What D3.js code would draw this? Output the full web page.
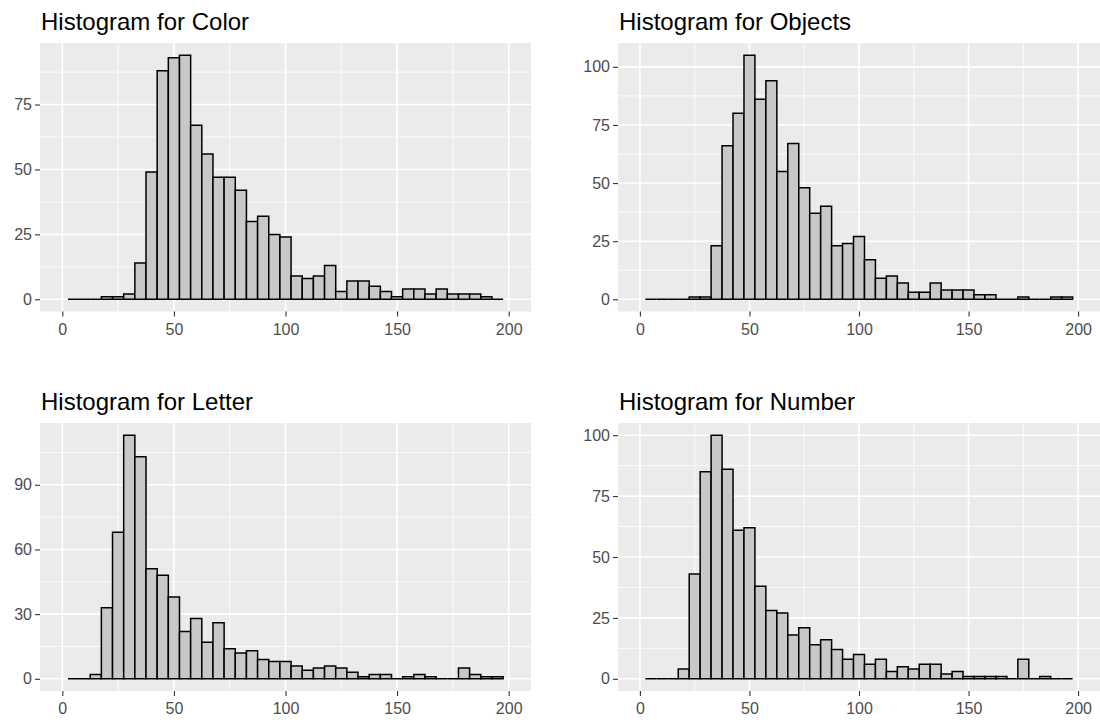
<!DOCTYPE html>
<html>
<head>
<meta charset="utf-8">
<script src="https://cdn.jsdelivr.net/npm/d3@7"></script>
<style>
  body { margin: 0; background: #fff; }
  svg { display: block; font-family: "Liberation Sans", Arial, sans-serif; }
</style>
</head>
<body>
<div id="chart"></div>
<script>
'use strict'

// bin centres (binwidth 5, x limited to 0..200)
const binMids = [5, 10, 15, 20, 25, 30, 35, 40, 45, 50, 55, 60, 65, 70, 75, 80, 85, 90, 95, 100,
    105, 110, 115, 120, 125, 130, 135, 140, 145, 150, 155, 160, 165, 170, 175, 180, 185, 190, 195];
const binWidth = 5;
const xLimits = [0, 200];
const xTicks = [0, 50, 100, 150, 200];

const titles = ["Histogram for Color", "Histogram for Objects", "Histogram for Letter", "Histogram for Number"];

const colorCounts = [0, 0, 0, 1, 1, 2, 14, 49, 88, 93, 94, 67, 56, 47, 47, 42, 30, 32, 25, 24,
    9, 8, 9, 13, 3, 7, 7, 5, 3, 1, 4, 4, 2, 4, 2, 2, 2, 1, 0];
const objectsCounts = [0, 0, 0, 0, 1, 1, 23, 66, 80, 105, 86, 94, 55, 67, 48, 37, 40, 23, 24, 27,
    17, 9, 10, 7, 3, 3, 7, 4, 4, 4, 2, 2, 0, 0, 1, 0, 0, 1, 1];
const letterCounts = [0, 0, 2, 33, 68, 113, 103, 51, 48, 38, 22, 28, 17, 26, 14, 12, 13, 9, 8, 8,
    6, 4, 5, 6, 5, 3, 1, 2, 2, 0, 1, 2, 1, 0, 0, 5, 2, 1, 1];
const numberCounts = [0, 0, 0, 4, 43, 85, 100, 86, 61, 62, 38, 28, 27, 18, 21, 14, 16, 12, 8, 10,
    6, 8, 3, 5, 4, 6, 6, 2, 3, 1, 1, 1, 1, 0, 8, 0, 1, 0, 0];

const colorTicks = [0, 25, 50, 75];
const objectsTicks = [0, 25, 50, 75, 100];
const letterTicks = [0, 30, 60, 90];
const numberTicks = [0, 25, 50, 75, 100];

const width = 1100;
const height = 722;

// panel boxes: left, top, right, bottom
const layout = [
    [40, 43, 531, 311.5],
    [618, 43, 1100, 311.5],
    [40, 423, 531, 691],
    [618, 423, 1100, 691]
];

const panels = [
    { title: titles[0], counts: colorCounts, yTicks: colorTicks },
    { title: titles[1], counts: objectsCounts, yTicks: objectsTicks },
    { title: titles[2], counts: letterCounts, yTicks: letterTicks },
    { title: titles[3], counts: numberCounts, yTicks: numberTicks }
];

const svg = d3.select("#chart")
    .append("svg")
    .attr("width", width)
    .attr("height", height);

function minorBreaks(ticks, domain) {
    const step = ticks[1] - ticks[0];
    const out = [];
    for (let v = ticks[0] - step / 2; v <= ticks[ticks.length - 1] + step; v += step) {
        if (v >= domain[0] && v <= domain[1]) out.push(v);
    }
    return out;
}

function drawPanel(p, box) {
    const [left, top, right, bottom] = box;
    const maxCount = d3.max(p.counts);
    const xPad = (xLimits[1] - xLimits[0]) * 0.05;

    const x = d3.scaleLinear()
        .domain([xLimits[0] - xPad, xLimits[1] + xPad])
        .range([left, right]);

    const y = d3.scaleLinear()
        .domain([-0.05 * maxCount, 1.05 * maxCount])
        .range([bottom, top]);

    const g = svg.append("g");

    // panel background
    g.append("rect")
        .attr("x", left)
        .attr("y", top)
        .attr("width", right - left)
        .attr("height", bottom - top)
        .attr("fill", "#ebebeb");

    // grid
    const xMinor = minorBreaks(xTicks, x.domain());
    const yMinor = minorBreaks(p.yTicks, y.domain());

    g.selectAll(".xminor")
        .data(xMinor)
        .enter().append("line")
        .attr("x1", d => x(d)).attr("x2", d => x(d))
        .attr("y1", top).attr("y2", bottom)
        .attr("stroke", "#fff").attr("stroke-width", 0.8);

    g.selectAll(".yminor")
        .data(yMinor)
        .enter().append("line")
        .attr("x1", left).attr("x2", right)
        .attr("y1", d => y(d)).attr("y2", d => y(d))
        .attr("stroke", "#fff").attr("stroke-width", 0.8);

    g.selectAll(".xmajor")
        .data(xTicks)
        .enter().append("line")
        .attr("x1", d => x(d)).attr("x2", d => x(d))
        .attr("y1", top).attr("y2", bottom)
        .attr("stroke", "#fff").attr("stroke-width", 1.6);

    g.selectAll(".ymajor")
        .data(p.yTicks)
        .enter().append("line")
        .attr("x1", left).attr("x2", right)
        .attr("y1", d => y(d)).attr("y2", d => y(d))
        .attr("stroke", "#fff").attr("stroke-width", 1.6);

    // bars (paths so that empty bins still show as a flat line)
    const bins = binMids.map((m, i) => ({ mid: m, n: p.counts[i] }));
    g.selectAll(".bar")
        .data(bins)
        .enter().append("path")
        .attr("d", d => `M${x(d.mid - binWidth / 2)},${y(0)}V${y(d.n)}H${x(d.mid + binWidth / 2)}V${y(0)}Z`)
        .attr("fill", "#c8c8c8")
        .attr("stroke", "#000")
        .attr("stroke-width", 1.5);

    // axes
    const yAxis = g.append("g")
        .attr("transform", `translate(${left},0)`)
        .call(d3.axisLeft(y).tickValues(p.yTicks).tickSize(5).tickPadding(3));

    const xAxis = g.append("g")
        .attr("transform", `translate(0,${bottom})`)
        .call(d3.axisBottom(x).tickValues(xTicks).tickSize(5).tickPadding(7));

    [yAxis, xAxis].forEach(a => {
        a.select(".domain").remove();
        a.selectAll(".tick line").attr("stroke", "#333").attr("stroke-width", 1.1);
        a.selectAll("text")
            .attr("fill", "#4d4d4d")
            .style("font-size", "16px")
            .style("font-family", "'Liberation Sans', Arial, sans-serif");
    });

    // title
    g.append("text")
        .attr("x", left + 1)
        .attr("y", top - 13)
        .attr("fill", "#000")
        .style("font-size", "24px")
        .text(p.title);
}

panels.forEach((p, i) => drawPanel(p, layout[i]));
</script>
</body>
</html>
